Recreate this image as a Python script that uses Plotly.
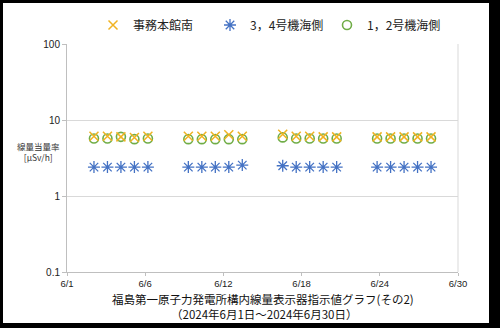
import plotly.graph_objects as go

# Data (day of June 2024)
days = [3, 4, 5, 6, 7, 10, 11, 12, 13, 14, 17, 18, 19, 20, 21, 24, 25, 26, 27, 28]
honkan_minami = [6.1, 6.1, 6.0, 5.9, 6.1, 6.1, 6.1, 6.1, 6.4, 6.1,
                 6.5, 6.1, 6.1, 6.0, 6.0, 6.0, 6.0, 6.0, 6.0, 6.0]
unit34_sea = [2.4, 2.4, 2.4, 2.4, 2.4, 2.4, 2.4, 2.4, 2.4, 2.55,
              2.5, 2.4, 2.4, 2.4, 2.4, 2.4, 2.4, 2.4, 2.4, 2.4]
unit12_sea = [5.7, 5.7, 6.0, 5.6, 5.7, 5.6, 5.6, 5.6, 5.6, 5.6,
              5.9, 5.7, 5.7, 5.7, 5.7, 5.7, 5.7, 5.7, 5.7, 5.7]

x_tickvals = [1, 6.8, 12.6, 18.4, 24.2, 30]
x_ticktext = ["6/1", "6/6", "6/12", "6/18", "6/24", "6/30"]
y_tickvals = [0.1, 1, 10, 100]
y_ticktext = ["0.1", "1", "10", "100"]

JP = "Noto Sans CJK JP"
W, H = 500, 328
ML, MR, MT, MB = 67, 42, 44, 56

fig = go.Figure()
fig.add_trace(go.Scatter(
    x=days, y=unit12_sea, mode="markers", name="1，2号機海側",
    marker=dict(symbol="circle-open", size=9, color="#70AD47",
                line=dict(width=1.6, color="#70AD47"))))
fig.add_trace(go.Scatter(
    x=days, y=unit34_sea, mode="markers", name="3，4号機海側",
    marker=dict(symbol="asterisk-open", size=10, color="#4472C4",
                line=dict(width=1.3, color="#4472C4"))))
fig.add_trace(go.Scatter(
    x=days, y=honkan_minami, mode="markers", name="事務本館南",
    marker=dict(symbol="x-thin-open", size=9, color="#F0B323",
                line=dict(width=1.5, color="#F0B323"))))

pw = W - ML - MR
ph = H - MT - MB
def px_x(p):
    return (p - ML) / pw
def px_y(p):
    return 1 - (p - MT) / ph

fig.update_layout(
    width=W, height=H,
    margin=dict(l=ML, r=MR, t=MT, b=MB, autoexpand=False),
    paper_bgcolor="black",
    plot_bgcolor="white",
    font=dict(family=JP, size=11, color="#222"),
    showlegend=True,
    legend=dict(orientation="h", traceorder="reversed",
                x=px_x(93), xanchor="left", y=px_y(25), yanchor="middle",
                font=dict(family=JP, size=12, color="#222"),
                bgcolor="rgba(0,0,0,0)", itemwidth=30,
                entrywidth=72, entrywidthmode="pixels", tracegroupgap=0),
    xaxis=dict(range=[1, 30], tickvals=x_tickvals, ticktext=x_ticktext,
               showgrid=False, zeroline=False, showline=True,
               linecolor="#BFBFBF", linewidth=1, ticks="outside",
               ticklen=3, tickcolor="#BFBFBF",
               tickfont=dict(family="Liberation Sans", size=9.5, color="#222"),
               mirror=False),
    yaxis=dict(type="log", range=[-1, 2], tickvals=y_tickvals,
               ticktext=y_ticktext, showgrid=True, gridcolor="#D9D9D9",
               zeroline=False, showline=True, linecolor="#BFBFBF",
               linewidth=1, ticks="outside", ticklen=4, tickcolor="#BFBFBF",
               tickfont=dict(family="Liberation Sans", size=10, color="#222")),
    shapes=[
        dict(type="rect", xref="paper", yref="paper", layer="below",
             x0=px_x(3), x1=px_x(489), y0=px_y(3), y1=px_y(323),
             fillcolor="white", line=dict(width=0)),
        dict(type="line", xref="paper", yref="paper",
             x0=1, x1=1, y0=0, y1=1, line=dict(color="#D9D9D9", width=1)),
    ],
    annotations=[
        dict(text="線量当量率<br>[μSv/h]", xref="paper", yref="paper",
             x=px_x(38), y=px_y(151), xanchor="center", yanchor="middle",
             showarrow=False, font=dict(family=JP, size=8.5, color="#333")),
        dict(text="福島第一原子力発電所構内線量表示器指示値グラフ(その2)",
             xref="paper", yref="paper", x=px_x(263), y=px_y(298.5),
             xanchor="center", yanchor="middle", showarrow=False,
             font=dict(family=JP, size=11.5, color="#111")),
        dict(text="（2024年6月1日～2024年6月30日）",
             xref="paper", yref="paper", x=px_x(264), y=px_y(314),
             xanchor="center", yanchor="middle", showarrow=False,
             font=dict(family=JP, size=11.5, color="#111")),
    ],
)

fig.write_html("out.html")
